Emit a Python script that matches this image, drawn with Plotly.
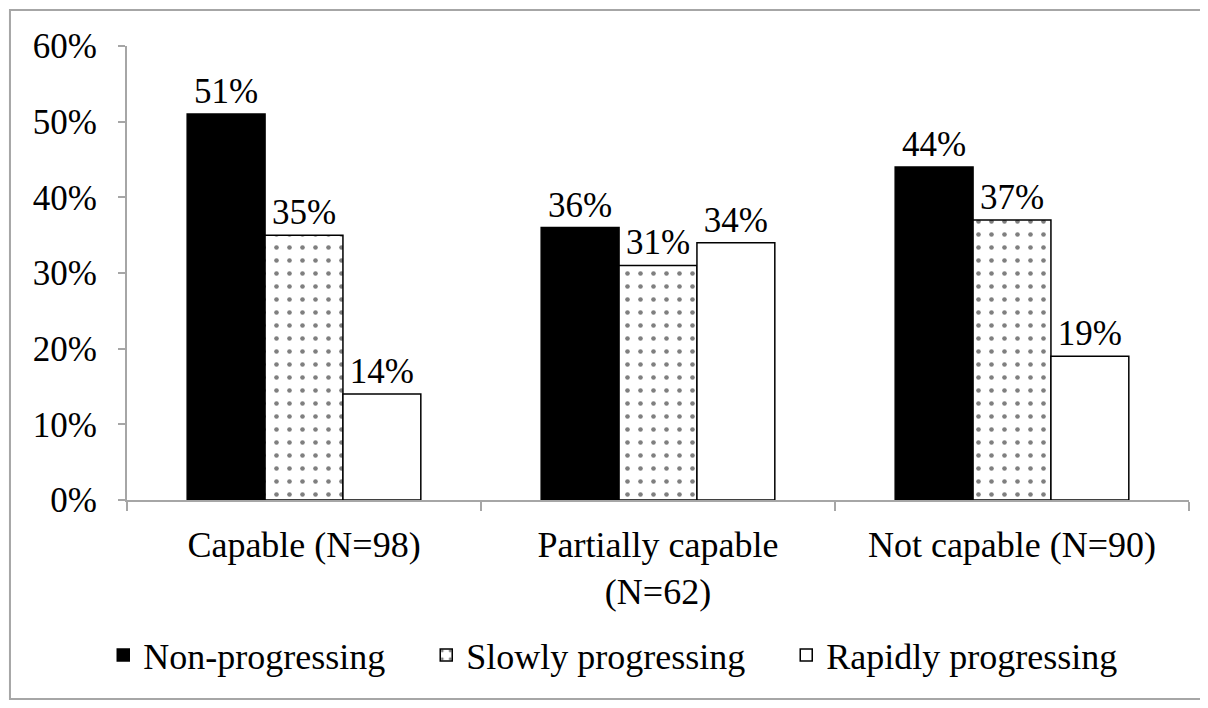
import plotly.graph_objects as go

categories = ["Capable (N=98)", "Partially capable<br>(N=62)", "Not capable (N=90)"]
non_progressing = [0.51, 0.36, 0.44]
slowly_progressing = [0.35, 0.31, 0.37]
rapidly_progressing = [0.14, 0.34, 0.19]
series_names = ["Non-progressing", "Slowly progressing", "Rapidly progressing"]

FONT = "Liberation Serif, Times New Roman, serif"
PAD = "\u00a0" * 4
fig = go.Figure()
fig.add_trace(go.Bar(
    x=categories, y=non_progressing, name=series_names[0] + PAD,
    marker=dict(color="black", line=dict(color="black", width=1.5)),
    text=[f"{v:.0%}" for v in non_progressing], textposition="outside",
    cliponaxis=False))
fig.add_trace(go.Bar(
    x=categories, y=slowly_progressing, name=series_names[1] + PAD,
    marker=dict(color="white", line=dict(color="black", width=1.5),
                pattern=dict(shape=".", fgcolor="black", bgcolor="white",
                             size=13, solidity=0.1)),
    text=[f"{v:.0%}" for v in slowly_progressing], textposition="outside",
    cliponaxis=False))
fig.add_trace(go.Bar(
    x=categories, y=rapidly_progressing, name=series_names[2],
    marker=dict(color="white", line=dict(color="black", width=1.5)),
    text=[f"{v:.0%}" for v in rapidly_progressing], textposition="outside",
    cliponaxis=False))

fig.update_traces(textfont=dict(family=FONT, size=35, color="black"))

fig.update_layout(
    width=1192, height=692,
    margin=dict(l=119, r=11, t=38, b=200),
    paper_bgcolor="white", plot_bgcolor="white",
    font=dict(family=FONT, size=35, color="black"),
    barmode="group", bargap=0.34, bargroupgap=0,
    showlegend=True,
    legend=dict(orientation="h", x=0.4574, xanchor="center", y=-0.3414, yanchor="middle",
                font=dict(family=FONT, size=36, color="black"),
                itemwidth=30, traceorder="normal"),
    xaxis=dict(showline=True, linecolor="#a6a6a6", linewidth=2,
               ticks="outside", tickson="boundaries", ticklen=9,
               tickcolor="#a6a6a6", tickwidth=2, showgrid=False,
               ticklabelstandoff=12,
               tickfont=dict(family=FONT, size=36, color="black")),
    yaxis=dict(range=[0, 0.6], dtick=0.1, tickformat=".0%",
               showline=True, linecolor="#a6a6a6", linewidth=2,
               ticks="outside", ticklen=7, tickcolor="#a6a6a6", tickwidth=2,
               showgrid=False, zeroline=False, ticklabelstandoff=14,
               tickfont=dict(family=FONT, size=35, color="black")),
    shapes=[dict(type="path", xref="paper", yref="paper",
                 path="M 1.02 1.0793 L -0.1102 1.0793 L -0.1102 -0.4383 L 1.02 -0.4383",
                 line=dict(color="#a6a6a6", width=2), fillcolor="rgba(0,0,0,0)",
                 layer="below")],
)

fig.write_html("out.html")
